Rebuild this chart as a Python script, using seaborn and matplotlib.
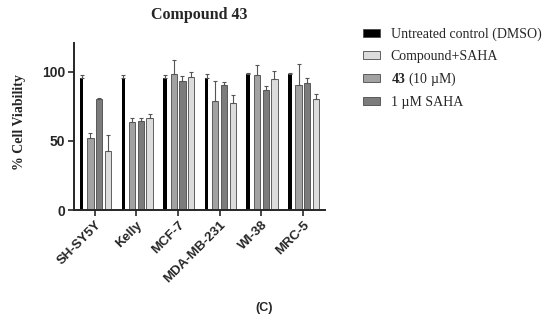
import numpy as np
import pandas as pd
import matplotlib
matplotlib.use("Agg")
import matplotlib.pyplot as plt
import seaborn as sns
from matplotlib.patches import Patch

cell_lines = ["SH-SY5Y", "Kelly", "MCF-7", "MDA-MB-231", "WI-38", "MRC-5"]
treatments = ["DMSO", "43", "SAHA", "Combo"]

dmso = [96, 96, 96, 96, 98.5, 98.5]
dmso_err = [1.8, 1.8, 1.8, 2.3, 1.0, 1.0]
cmpd43 = [52, 63.5, 98.5, 79, 97.6, 90.6]
cmpd43_err = [4, 3.5, 10, 14.7, 7.4, 15.4]
saha = [80.4, 64.7, 93.7, 90.6, 87, 91.8]
saha_err = [1.0, 2.3, 3.3, 1.9, 3.0, 4.2]
combo = [43, 66.4, 96.6, 77.8, 94.7, 80.4]
combo_err = [11, 3.1, 3.1, 5.2, 5.8, 3.4]

legend_labels = ["Untreated control (DMSO)", "Compound+SAHA",
                 r"$\mathbf{43}$ (10 µM)", "1 µM SAHA"]
colors = {"DMSO": "#000000", "43": "#a2a2a2", "SAHA": "#7c7c7c", "Combo": "#dcdcdc"}

means = [dmso, cmpd43, saha, combo]
errs = [dmso_err, cmpd43_err, saha_err, combo_err]
df = pd.DataFrame({
    "cell": cell_lines * 4,
    "treat": np.repeat(treatments, len(cell_lines)),
    "val": np.concatenate(means),
    "err": np.concatenate(errs),
})

sns.set_style("ticks")
plt.rcParams["font.family"] = ["Liberation Sans", "DejaVu Sans"]
plt.rcParams["mathtext.fontset"] = "custom"
plt.rcParams["mathtext.rm"] = "Liberation Serif"
plt.rcParams["mathtext.bf"] = "Liberation Serif:bold"

fig = plt.figure(figsize=(5.5, 3.23), dpi=100)
ax = fig.add_axes([74 / 550, 1 - 210 / 323, (325 - 74) / 550, (210 - 43) / 323])

sns.barplot(data=df, x="cell", y="val", hue="treat", order=cell_lines,
            hue_order=treatments, palette=colors, width=0.84, gap=0.28,
            errorbar=None, edgecolor="#4a4a4a", linewidth=0.6, legend=False, ax=ax)

bar_conts = list(ax.containers)
for i, cont in enumerate(bar_conts):
    xs, ys = [], []
    for bar in cont:
        cx = bar.get_x() + bar.get_width() / 2
        if i == 0:
            bar.set_width(0.085)
            bar.set_x(cx - 0.0425)
            bar.set_linewidth(0)
        xs.append(cx)
        ys.append(bar.get_height())
    e = errs[i]
    ax.errorbar(xs, ys, yerr=[np.zeros(len(e)), e], fmt="none", ecolor="#555555",
                elinewidth=0.8, capsize=1.5, capthick=0.8, zorder=3)

ax.set_xlim(-0.5, 5.53)
ax.set_ylim(0, 121)
ax.set_yticks([0, 50, 100])
ax.set_xlabel("")
ax.set_ylabel("")
sns.despine(ax=ax)
for s in ["left", "bottom"]:
    ax.spines[s].set_linewidth(1.4)
ax.tick_params(axis="both", width=1.2, length=4, labelsize=10, pad=2.5)
for lab in ax.get_yticklabels():
    lab.set_fontweight("bold")
ax.set_xticks(range(len(cell_lines)))
ax.set_xticklabels(cell_lines, rotation=45, ha="right", rotation_mode="anchor",
                   fontweight="bold", fontsize=9.5)

fig.text(199 / 550, 1 - 15 / 323, "Compound 43", family="Liberation Serif",
         fontweight="bold", fontsize=11.5, ha="center", va="center")
fig.text(20 / 550, 1 - 122 / 323, "% Cell Viability", family="Liberation Serif",
         fontweight="bold", fontsize=10, rotation=90, ha="center", va="center")
fig.text(264 / 550, 1 - 308 / 323, "(C)", fontweight="bold", fontsize=9,
         ha="center", va="center")

handles = [Patch(facecolor=colors[t], edgecolor="#4a4a4a", linewidth=0.6)
           for t in ["DMSO", "Combo", "43", "SAHA"]]
fig.legend(handles, legend_labels, loc="upper left",
           bbox_to_anchor=(363 / 550, 1 - 28 / 323), frameon=False, borderpad=0,
           borderaxespad=0, prop={"family": "Liberation Serif", "size": 10},
           handlelength=1.25, handleheight=0.5, labelspacing=0.58, handletextpad=0.75)

fig.savefig("out.png", dpi=100)
